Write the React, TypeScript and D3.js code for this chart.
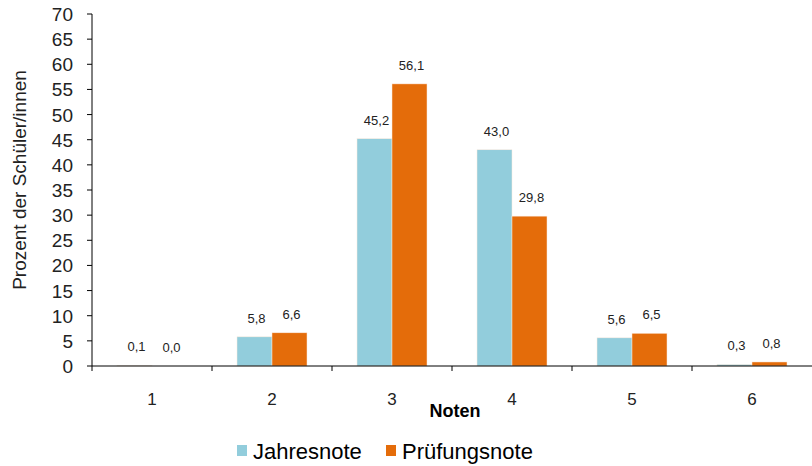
import React from "react";
import * as d3 from "d3";

const categories = ["1", "2", "3", "4", "5", "6"];
const jahresnote = [0.1, 5.8, 45.2, 43.0, 5.6, 0.3];
const pruefungsnote = [0.0, 6.6, 56.1, 29.8, 6.5, 0.8];
const seriesNames = ["Jahresnote", "Prüfungsnote"];
const colors = ["#92CDDC", "#E46C0A"];
const yTicks = [0, 5, 10, 15, 20, 25, 30, 35, 40, 45, 50, 55, 60, 65, 70];

export default function App() {
  const W = 812, H = 466;
  const left = 92, right = 812, top = 14, bottom = 366;
  const x = d3.scaleBand().domain(categories).range([left, right]);
  const y = d3.scaleLinear().domain([0, 70]).range([bottom, top]);
  const series = [jahresnote, pruefungsnote];
  const fmt = (v: number) => v.toFixed(1).replace(".", ",");
  const font = "'Liberation Sans', Arial, sans-serif";
  const bw = 35;
  const off = (x.bandwidth() - 2 * bw) / 2;
  return (
    <svg width={W} height={H} style={{ position: "absolute", left: 0, top: 0 }} fontFamily={font}>
      <rect width={W} height={H} fill="#fff" />
      {categories.map((c, i) =>
        series.map((s, j) => {
          const bx = (x(c) as number) + off + j * bw;
          return (
            <g key={c + j}>
              <rect x={bx} y={y(s[i])} width={bw} height={bottom - y(s[i])} fill={colors[j]} stroke="#fbe9dc" strokeWidth={0.5} />
              <text x={bx + bw / 2 + 2} y={y(s[i]) - 14} textAnchor="middle" fontSize={13} fill="#222">{fmt(s[i])}</text>
            </g>
          );
        })
      )}
      {/* y axis */}
      <line x1={left} x2={left} y1={top} y2={bottom} stroke="#000" />
      {yTicks.map((t) => (
        <g key={t}>
          <line x1={left - 5} x2={left} y1={y(t)} y2={y(t)} stroke="#000" />
          <text x={left - 19} y={y(t) + 7} textAnchor="end" fontSize={19} fill="#222">{t}</text>
        </g>
      ))}
      {/* x axis */}
      <line x1={left} x2={right} y1={bottom} y2={bottom} stroke="#000" />
      {categories.map((c) => (
        <g key={"xt" + c}>
          <line x1={x(c) as number} x2={x(c) as number} y1={bottom} y2={bottom + 5} stroke="#000" />
          <text x={(x(c) as number) + x.bandwidth() / 2} y={bottom + 39} textAnchor="middle" fontSize={17} fill="#222">{c}</text>
        </g>
      ))}
      <text x={455} y={417} textAnchor="middle" fontSize={18} fontWeight="bold" fill="#000">Noten</text>
      <text transform={`translate(26,180) rotate(-90)`} textAnchor="middle" fontSize={19} fill="#222">Prozent der Schüler/innen</text>
      {/* legend */}
      {seriesNames.map((n, j) => {
        const lx = j === 0 ? 237 : 386;
        return (
          <g key={n}>
            <rect x={lx} y={445} width={10} height={11} fill={colors[j]} />
            <text x={lx + 16} y={459} fontSize={22} fill="#000">{n}</text>
          </g>
        );
      })}
    </svg>
  );
}
